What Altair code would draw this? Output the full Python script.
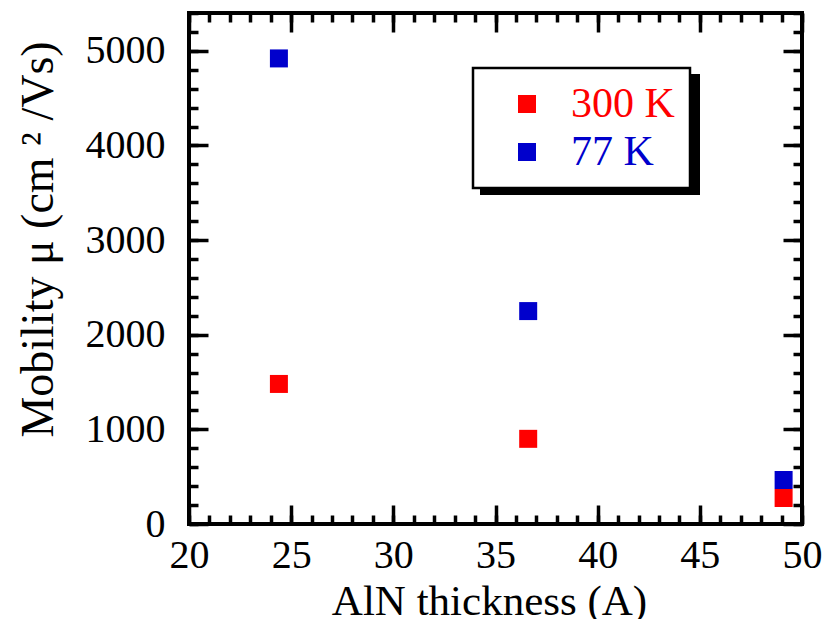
import altair as alt
import pandas as pd

# Hall mobility versus AlN barrier thickness at two temperatures
thickness = [24.4, 36.6, 49.1]
mu_300k = [1480, 900, 275]
mu_77k = [4920, 2250, 465]
series = ["300 K", "77 K"]
colors = ["#ff0000", "#0000cc"]

# tick positions
x_major = [20, 25, 30, 35, 40, 45, 50]
x_minor = list(range(20, 51))
y_major = [0, 1000, 2000, 3000, 4000, 5000]
y_minor = list(range(0, 5401, 200))

rows = []
for t, a, b in zip(thickness, mu_300k, mu_77k):
    rows.append({"t": t, "mu": a, "T": series[0]})
    rows.append({"t": t, "mu": b, "T": series[1]})
df = pd.DataFrame(rows)

W, H = 613, 511
FONT = "Liberation Serif"
FS = 40
MAJOR, MINOR, TW = 19, 9, 3.5

xs = alt.Scale(domain=[20, 50], nice=False, zero=False)
ys = alt.Scale(domain=[0, 5400], nice=False, zero=False)


def inward(orient, values, size):
    # ticks pulled inside the frame by shifting the axis inward by its tick length
    return alt.Axis(orient=orient, values=values, tickSize=size, offset=-size,
                    tickWidth=TW, tickColor="black", domain=False, grid=False,
                    labels=False, title=None)


x_main = alt.Axis(orient="bottom", values=x_major, tickSize=MAJOR, offset=-MAJOR,
                  tickWidth=TW, tickColor="black", domain=False, grid=False,
                  labelFont=FONT, labelFontSize=FS, labelColor="black",
                  labelPadding=11, labelFlush=False, labelOverlap=False, format="d",
                  title="AlN thickness (A)", titleFont=FONT, titleFontSize=43,
                  titleFontWeight="normal", titleColor="black", titlePadding=5,
                  titleX=300)
y_main = alt.Axis(orient="left", values=y_major, tickSize=MAJOR, offset=-MAJOR,
                  tickWidth=TW, tickColor="black", domain=False, grid=False,
                  labelFont=FONT, labelFontSize=FS, labelColor="black",
                  labelPadding=24, labelFlush=False, labelOverlap=False, format="d",
                  title="Mobility μ (cm ² /Vs)", titleFont=FONT, titleFontSize=46,
                  titleFontWeight="normal", titleColor="black", titlePadding=23,
                  titleY=226)

legend = alt.Legend(orient="none", legendX=284, legendY=55, title=None,
                    symbolType="square", symbolSize=324, symbolStrokeWidth=0,
                    labelFont=FONT, labelFontSize=42,
                    labelColor=alt.ExprRef(expr="datum.label == '300 K' ? '#ff0000' : '#0000cc'"),
                    padding=15, symbolOffset=18, labelOffset=23, rowPadding=6,
                    strokeColor="black", fillColor="white")

points = alt.Chart(df).mark_square(size=324, opacity=1).encode(
    x=alt.X("t:Q", scale=xs, axis=x_main),
    y=alt.Y("mu:Q", scale=ys, axis=y_main),
    color=alt.Color("T:N", scale=alt.Scale(domain=series, range=colors), legend=legend),
)


def ticks_only(xa, ya):
    return alt.Chart(df).mark_point(opacity=0).encode(
        x=alt.X("t:Q", scale=xs, axis=xa),
        y=alt.Y("mu:Q", scale=ys, axis=ya),
    )


bottom_left_minor = ticks_only(inward("bottom", x_minor, MINOR), inward("left", y_minor, MINOR))
top_right_major = ticks_only(inward("top", x_major, MAJOR), inward("right", y_major, MAJOR))
top_right_minor = ticks_only(inward("top", x_minor, MINOR), inward("right", y_minor, MINOR))

# drop shadow behind the legend box
shadow = alt.Chart(alt.Data(values=[{"k": 0}])).mark_rect(color="black").encode(
    x=alt.value(291), x2=alt.value(511), y=alt.value(61), y2=alt.value(182)
)

chart = alt.layer(
    bottom_left_minor, top_right_major, top_right_minor, shadow, points
).resolve_axis(x="independent", y="independent").properties(
    width=W, height=H,
    padding={"left": 189, "top": 13, "right": 23, "bottom": 95},
    autosize=alt.AutoSizeParams(type="none"),
).configure_view(stroke="black", strokeWidth=4).configure_legend(strokeWidth=2.5)

chart.save("out.html", embed_options={"renderer": "svg", "actions": False})
